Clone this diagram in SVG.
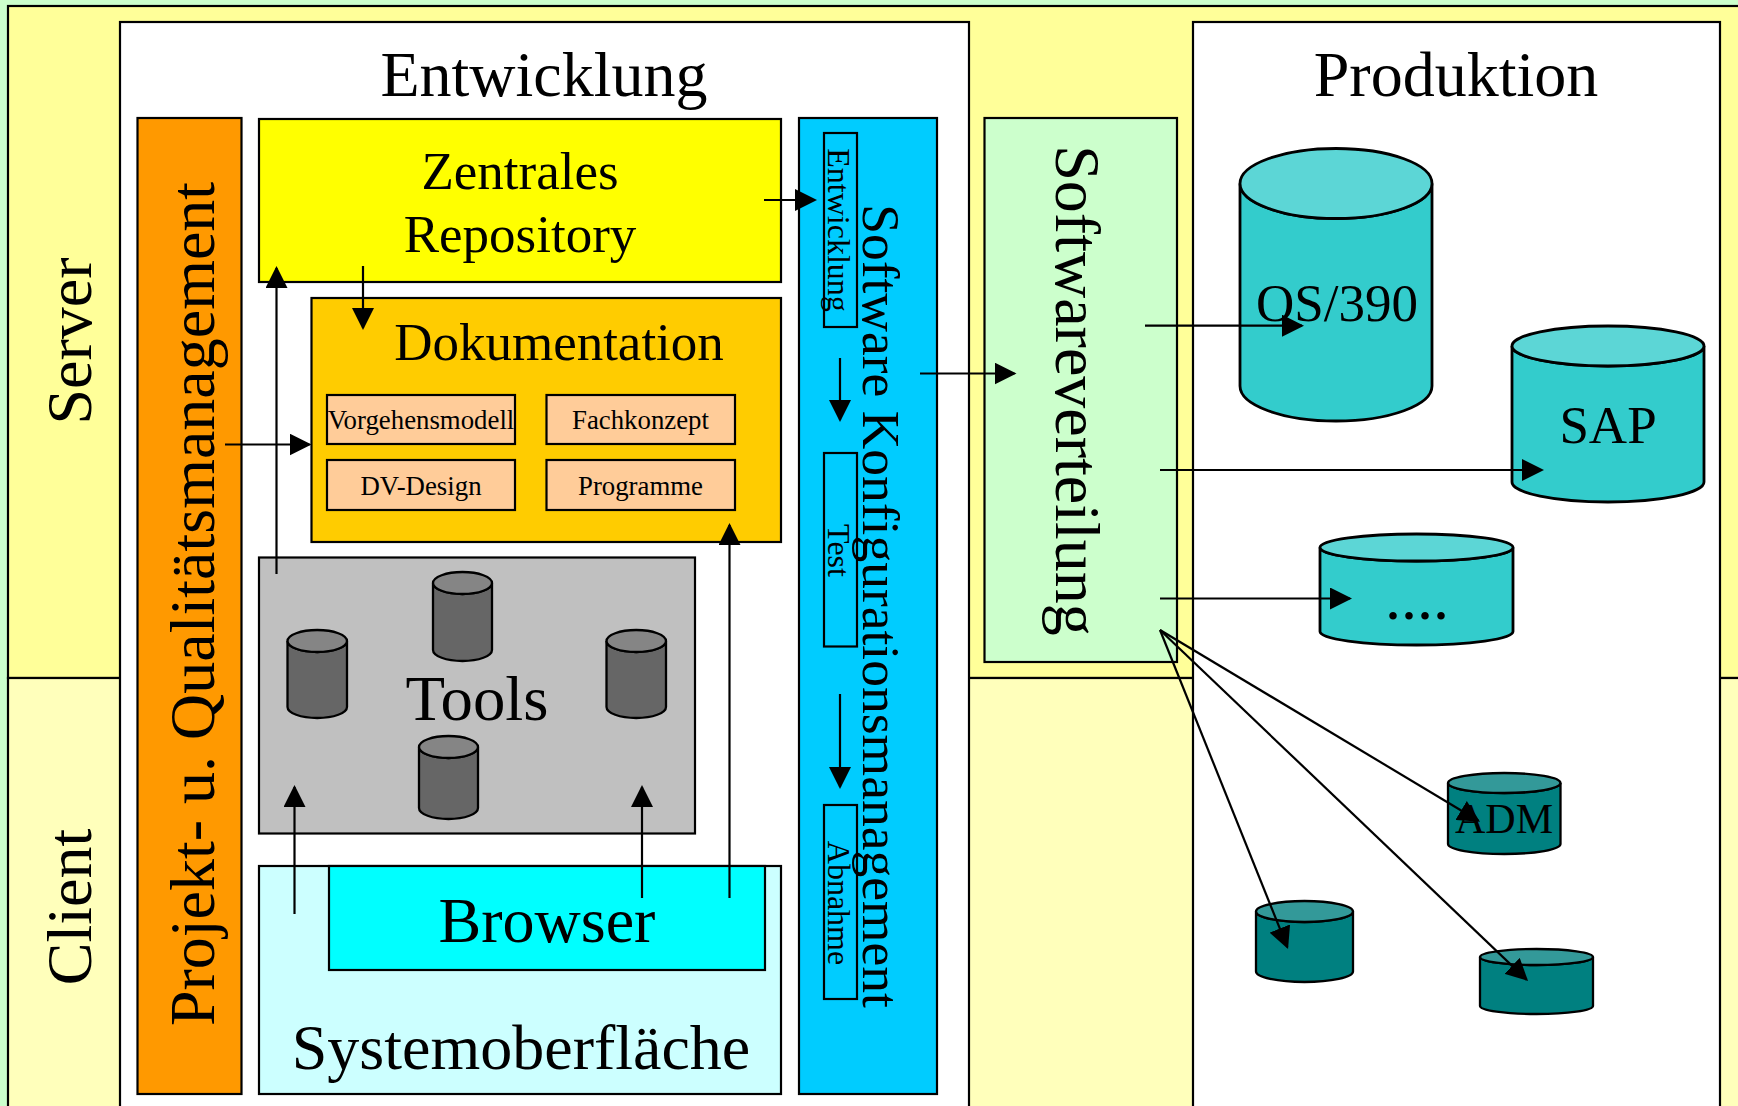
<svg xmlns="http://www.w3.org/2000/svg" width="1738" height="1106" viewBox="0 0 1738 1106">
<defs>
<style>
text{font-family:"Liberation Serif","Times New Roman",serif;fill:#000;text-anchor:middle}
.b{stroke:#000;stroke-width:2.2}
.t64{font-size:64px}.t53{font-size:53px}.t27{font-size:26.800px}.t32{font-size:32px}
.c{stroke:#000;stroke-width:2.3}
.big .c{stroke-width:2.8}
.teal{fill:#33CCCC}.tealtop{fill:#5CD6D6}
.dark{fill:#008080}.darktop{fill:#339999}
.gray{fill:#666666}.graytop{fill:#858585}
#connectors line{stroke:#000;stroke-width:2.2;marker-end:url(#arrow)}
</style>
<marker id="arrow" markerUnits="userSpaceOnUse" markerWidth="22" markerHeight="22" viewBox="0 0 22 22" refX="20" refY="11" orient="auto"><polygon points="0,0 22,11 0,22" fill="#000"/></marker>
</defs>
<rect width="1738" height="1106" fill="#CCFFCC"/>
<g id="band-server"><rect class="b" x="8" y="6" width="1740" height="672" fill="#FFFF99"/><text class="t64" transform="translate(91,341) rotate(-90)">Server</text></g>
<g id="band-client"><rect class="b" x="8" y="678" width="1740" height="440" fill="#FFFFBB"/><text class="t64" transform="translate(91,907) rotate(-90)">Client</text></g>
<g id="entwicklung"><rect class="b" x="120" y="22" width="849" height="1100" fill="#fff"/><text class="t64" x="544" y="96">Entwicklung</text></g>
<g id="produktion"><rect class="b" x="1193" y="22" width="527" height="1100" fill="#fff"/><text class="t64" x="1456" y="96">Produktion</text></g>
<g id="qm"><rect class="b" x="137.500" y="118" width="104" height="976" fill="#FF9900"/><text class="t64" transform="translate(214,604) rotate(-90)">Projekt- u. Qualitätsmanagement</text></g>
<g id="repository"><rect class="b" x="259" y="119" width="522" height="163" fill="#FFFF00"/><text class="t53" x="520" y="188.500">Zentrales</text><text class="t53" x="520" y="252">Repository</text></g>
<g id="dokumentation"><rect class="b" x="311.500" y="298" width="469.500" height="244" fill="#FFCC00"/><text class="t53" x="559" y="360">Dokumentation</text></g>
<g id="vorgehensmodell"><rect class="b" x="327" y="395" width="188" height="49" fill="#FFCC99"/><text class="t27" x="421" y="429">Vorgehensmodell</text></g>
<g id="fachkonzept"><rect class="b" x="546.500" y="395" width="188.500" height="49" fill="#FFCC99"/><text class="t27" x="640.500" y="429">Fachkonzept</text></g>
<g id="dv-design"><rect class="b" x="327" y="460" width="188" height="50" fill="#FFCC99"/><text class="t27" x="421" y="495">DV-Design</text></g>
<g id="programme"><rect class="b" x="546.500" y="460" width="188.500" height="50" fill="#FFCC99"/><text class="t27" x="640.500" y="495">Programme</text></g>
<g id="tools"><rect class="b" x="259" y="557.500" width="436" height="276" fill="#C0C0C0"/>
<path class="c gray" d="M433,583A29.500,11 0 0 0 492,583V650A29.500,11 0 0 1 433,650Z"/><ellipse class="c graytop" cx="462.500" cy="583" rx="29.500" ry="11"/>
<path class="c gray" d="M287.500,641A29.750,11 0 0 0 347,641V707A29.750,11 0 0 1 287.500,707Z"/><ellipse class="c graytop" cx="317.250" cy="641" rx="29.750" ry="11"/>
<path class="c gray" d="M606.500,641A29.750,11 0 0 0 666,641V707A29.750,11 0 0 1 606.500,707Z"/><ellipse class="c graytop" cx="636.250" cy="641" rx="29.750" ry="11"/>
<path class="c gray" d="M419,747A29.500,11 0 0 0 478,747V808A29.500,11 0 0 1 419,808Z"/><ellipse class="c graytop" cx="448.500" cy="747" rx="29.500" ry="11"/>
<text class="t64" x="477" y="720" textLength="143" lengthAdjust="spacingAndGlyphs">Tools</text></g>
<g id="systemoberflaeche"><rect class="b" x="259" y="866" width="522" height="228" fill="#CCFFFF"/><text class="t64" x="521" y="1069">Systemoberfläche</text></g>
<g id="browser"><rect class="b" x="329" y="866" width="436" height="104" fill="#00FFFF"/><text class="t64" x="547" y="942">Browser</text></g>
<g id="skm"><rect class="b" x="799" y="118" width="138" height="976" fill="#00CCFF"/><text style="font-size:53.500px" transform="translate(863,606) rotate(90)">Software Konfigurationsmanagement</text></g>
<g id="skm-entwicklung"><rect class="b" x="824" y="133" width="33" height="194" fill="none"/><text class="t32" transform="translate(828,230) rotate(90)">Entwicklung</text></g>
<g id="skm-test"><rect class="b" x="824" y="453" width="33" height="193.500" fill="none"/><text class="t32" transform="translate(828,550.500) rotate(90)">Test</text></g>
<g id="skm-abnahme"><rect class="b" x="824" y="805" width="33" height="194" fill="none"/><text class="t32" transform="translate(828,903) rotate(90)">Abnahme</text></g>
<g id="softwareverteilung"><rect class="b" x="984.500" y="118" width="192.500" height="544" fill="#CCFFCC"/><text class="t64" transform="translate(1056,390.500) rotate(90)">Softwareverteilung</text></g>
<g id="os390" class="big"><path class="c teal" d="M1240,183.500A96,35 0 0 0 1432,183.500V386A96,35 0 0 1 1240,386Z"/><ellipse class="c tealtop" cx="1336" cy="183.500" rx="96" ry="35"/><text class="t53" x="1337" y="321">OS/390</text></g>
<g id="sap" class="big"><path class="c teal" d="M1512,346A96,20 0 0 0 1704,346V482A96,20 0 0 1 1512,482Z"/><ellipse class="c tealtop" cx="1608" cy="346" rx="96" ry="20"/><text class="t53" x="1608" y="443">SAP</text></g>
<g id="dots" class="big"><path class="c teal" d="M1320,547.500A96.500,13.500 0 0 0 1513,547.500V631.500A96.500,13.500 0 0 1 1320,631.500Z"/><ellipse class="c tealtop" cx="1416.500" cy="547.500" rx="96.500" ry="13.500"/><text class="t64" x="1417" y="619">....</text></g>
<g id="adm"><path class="c dark" d="M1448,783A56.250,10 0 0 0 1560.500,783V844A56.250,10 0 0 1 1448,844Z"/><ellipse class="c darktop" cx="1504.250" cy="783" rx="56.250" ry="10"/><text x="1504" y="833" style="font-size:42px">ADM</text></g>
<g id="db-left"><path class="c dark" d="M1256,911.500A48.500,10.500 0 0 0 1353,911.500V971.500A48.500,10.500 0 0 1 1256,971.500Z"/><ellipse class="c darktop" cx="1304.500" cy="911.500" rx="48.500" ry="10.500"/></g>
<g id="db-right"><path class="c dark" d="M1480,957A56.500,8 0 0 0 1593,957V1006A56.500,8 0 0 1 1480,1006Z"/><ellipse class="c darktop" cx="1536.500" cy="957" rx="56.500" ry="8"/></g>
<g id="connectors">
<line x1="764" y1="200" x2="815" y2="200"/>
<line x1="363" y1="266" x2="363" y2="328"/>
<line x1="276.500" y1="574" x2="276.500" y2="268"/>
<line x1="225" y1="444.500" x2="309.500" y2="444.500"/>
<line x1="729.500" y1="898" x2="729.500" y2="525"/>
<line x1="294.500" y1="914" x2="294.500" y2="787"/>
<line x1="642" y1="898" x2="642" y2="787"/>
<line x1="840" y1="358" x2="840" y2="420"/>
<line x1="840" y1="694" x2="840" y2="787"/>
<line x1="920" y1="373.500" x2="1014.500" y2="373.500"/>
<line x1="1145" y1="325.700" x2="1302" y2="325.700"/>
<line x1="1160" y1="470" x2="1542" y2="470"/>
<line x1="1160" y1="598.500" x2="1350" y2="598.500"/>
<line x1="1160" y1="630" x2="1478.300" y2="820.700"/>
<line x1="1160" y1="630" x2="1287.300" y2="947.100"/>
<line x1="1160" y1="630" x2="1526.600" y2="979.600"/>
</g>
</svg>
